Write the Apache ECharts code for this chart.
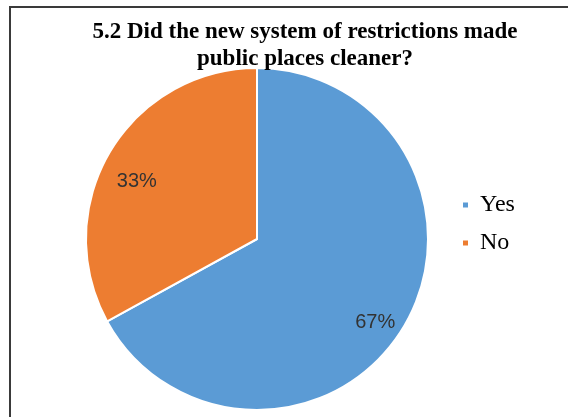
<!DOCTYPE html>
<html>
<head>
<meta charset="utf-8">
<style>
  html, body { margin: 0; padding: 0; background: #fff; }
  #chart { width: 568px; height: 417px; }
</style>
<script src="https://cdn.jsdelivr.net/npm/echarts@6/dist/echarts.min.js"></script>
</head>
<body>
<div id="chart"></div>
<script>
// Survey answers (percent of respondents)
const categories = ['Yes', 'No'];
const shares = [67, 33];
const sliceColors = ['#5B9BD5', '#ED7D31'];
const titleLines = ['5.2 Did the new system of restrictions made', 'public places cleaner?'];

// Label nudges so the percentages sit where they read best in each slice
const labelOffsets = [[42, 38], [-44, -12]];

const chart = echarts.init(document.getElementById('chart'), null, { renderer: 'canvas' });

chart.setOption({
  backgroundColor: '#ffffff',
  animation: false,
  title: {
    text: titleLines.join('\n'),
    left: 300,
    top: 14,
    textAlign: 'center',
    textStyle: {
      fontFamily: 'Liberation Serif',
      fontWeight: 'bold',
      fontSize: 23,
      lineHeight: 27,
      color: '#000'
    }
  },
  graphic: [{
    type: 'rect',
    shape: { x: 10, y: 7, width: 700, height: 600 },
    style: { fill: 'none', stroke: '#3a3a3a', lineWidth: 2 },
    silent: true
  }],
  legend: {
    orient: 'vertical',
    left: 456,
    top: 188,
    itemWidth: 7,
    itemHeight: 7,
    itemGap: 14,
    icon: 'rect',
    data: categories,
    textStyle: {
      fontFamily: 'Liberation Serif',
      fontSize: 24,
      color: '#000',
      padding: [0, 0, 0, 6]
    }
  },
  series: [{
    type: 'pie',
    center: [257, 239],
    radius: 171,
    startAngle: 90,
    clockwise: true,
    avoidLabelOverlap: false,
    itemStyle: { borderColor: '#fff', borderWidth: 2 },
    label: {
      show: true,
      position: 'inside',
      formatter: '{c}%',
      fontFamily: 'Liberation Sans',
      fontSize: 20,
      color: '#333333'
    },
    labelLine: { show: false },
    data: categories.map((name, i) => ({
      name: name,
      value: shares[i],
      itemStyle: { color: sliceColors[i] },
      label: { offset: labelOffsets[i] }
    }))
  }]
});
</script>
</body>
</html>
